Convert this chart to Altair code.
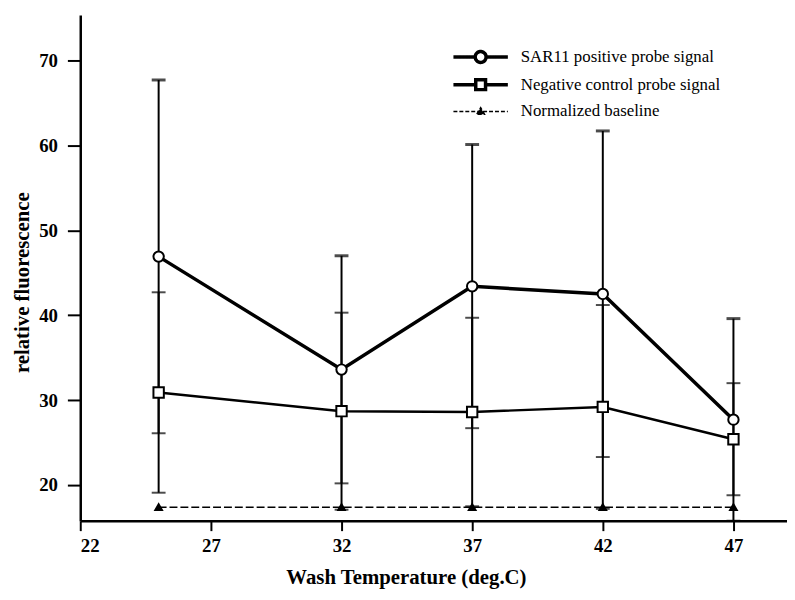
import altair as alt
import pandas as pd

# ---- data ----
temps = [25, 32, 37, 42, 47]
sar11 = [46.9, 33.6, 43.4, 42.5, 27.7]
sar11_err = [20.8, 13.4, 16.7, 19.2, 11.9]
neg = [30.9, 28.7, 28.6, 29.2, 25.4]
neg_err = [11.8, 11.6, 11.1, 12.0, 6.6]
baseline = [17.4, 17.4, 17.4, 17.4, 17.4]

series_names = ["SAR11 positive probe signal", "Negative control probe signal", "Normalized baseline"]
x_ticks = [22, 27, 32, 37, 42, 47]
y_ticks = [20, 30, 40, 50, 60, 70]

FONT = "Liberation Serif"

rows = []
for i, t in enumerate(temps):
    rows.append({"series": series_names[0], "temp": t, "val": sar11[i],
                 "lo": sar11[i] - sar11_err[i], "hi": sar11[i] + sar11_err[i]})
    rows.append({"series": series_names[1], "temp": t, "val": neg[i],
                 "lo": neg[i] - neg_err[i], "hi": neg[i] + neg_err[i]})
    rows.append({"series": series_names[2], "temp": t, "val": baseline[i],
                 "lo": baseline[i], "hi": baseline[i]})
df = pd.DataFrame(rows)
df_err = df[df.series != series_names[2]]
df_sar = df[df.series == series_names[0]]
df_neg = df[df.series == series_names[1]]
df_base = df[df.series == series_names[2]]

xs = alt.Scale(domain=[22, 49.05], nice=False, zero=False)
ys = alt.Scale(domain=[15.8, 75.36], nice=False, zero=False)

X = alt.X("temp:Q", scale=xs, axis=alt.Axis(
    values=x_ticks, title="Wash Temperature (deg.C)", grid=False,
    titleX=329, titleY=57, titleBaseline="middle", titleAnchor="start", titleAlign="center"))
Y = alt.Y("val:Q", scale=ys, axis=alt.Axis(
    values=y_ticks, title="relative fluorescence", grid=False,
    titleX=-58, titleY=270, titleBaseline="middle", titleAlign="center", titleAnchor="start"))

err_rules = alt.Chart(df_err).mark_rule(color="black", strokeWidth=2).encode(
    x=alt.X("temp:Q", scale=xs), y=alt.Y("lo:Q", scale=ys), y2="hi:Q")

caps_hi_sar = alt.Chart(df_sar).mark_tick(color="black", orient="horizontal", size=14, thickness=3).encode(
    x=alt.X("temp:Q", scale=xs), y=alt.Y("hi:Q", scale=ys))
caps_lo_sar = alt.Chart(df_sar).mark_tick(color="black", orient="horizontal", size=14, thickness=2).encode(
    x=alt.X("temp:Q", scale=xs), y=alt.Y("lo:Q", scale=ys))
caps_neg = alt.Chart(df_neg).transform_fold(["lo", "hi"], as_=["k", "v"]).mark_tick(
    color="black", orient="horizontal", size=14, thickness=2).encode(
    x=alt.X("temp:Q", scale=xs), y=alt.Y("v:Q", scale=ys))

line_sar = alt.Chart(df_sar).mark_line(color="black", strokeWidth=3.5).encode(x=X, y=Y)
line_neg = alt.Chart(df_neg).mark_line(color="black", strokeWidth=2.5).encode(
    x=alt.X("temp:Q", scale=xs), y=alt.Y("val:Q", scale=ys))
line_base = alt.Chart(df_base).mark_line(color="black", strokeWidth=1.5, strokeDash=[8, 3]).encode(
    x=alt.X("temp:Q", scale=xs), y=alt.Y("val:Q", scale=ys))

pts_sar = alt.Chart(df_sar).mark_point(shape="circle", size=110, fill="white", stroke="black",
                                       strokeWidth=2, filled=True, opacity=1).encode(
    x=alt.X("temp:Q", scale=xs), y=alt.Y("val:Q", scale=ys))
pts_neg = alt.Chart(df_neg).mark_point(shape="square", size=110, fill="white", stroke="black",
                                       strokeWidth=2, filled=True, opacity=1).encode(
    x=alt.X("temp:Q", scale=xs), y=alt.Y("val:Q", scale=ys))
pts_base = alt.Chart(df_base).mark_point(shape="triangle-up", size=45, fill="black", stroke="black",
                                         filled=True, opacity=1).encode(
    x=alt.X("temp:Q", scale=xs), y=alt.Y("val:Q", scale=ys))

# invisible layer that only supplies the legend (symbol paths span [-2, 2] units)
p_circle = "M-2,0H-0.4M0.4,0H2M-0.4,0A0.4,0.4,0,1,1,0.4,0A0.4,0.4,0,1,1,-0.4,0Z"
p_square = "M-2,0H-0.36M0.36,0H2M-0.36,-0.36H0.36V0.36H-0.36Z"
p_tri = "M-2,0H2M-0.28,0.2L0,-0.28L0.28,0.2Z"
legend_df = df[df.temp == temps[0]]
leg = alt.Legend(title=None, orient="none", legendX=389, legendY=27, labelFont=FONT,
                 labelFontSize=17, labelColor="black", symbolSize=756, symbolOpacity=1,
                 symbolStrokeColor="black", labelOffset=25, rowPadding=0, labelLimit=400)
legend_layer = alt.Chart(legend_df).mark_point(opacity=0).encode(
    x=alt.X("temp:Q", scale=xs), y=alt.Y("val:Q", scale=ys),
    shape=alt.Shape("series:N", scale=alt.Scale(domain=series_names, range=[p_circle, p_square, p_tri]), legend=leg),
    fill=alt.Fill("series:N", scale=alt.Scale(domain=series_names, range=["white", "white", "black"]), legend=leg),
    stroke=alt.Stroke("series:N", scale=alt.Scale(domain=series_names, range=["black", "black", "black"]), legend=leg),
    strokeWidth=alt.StrokeWidth("series:N", scale=alt.Scale(type="ordinal", domain=series_names, range=[3.5, 3.5, 1.5]), legend=leg),
    strokeDash=alt.StrokeDash("series:N", scale=alt.Scale(domain=series_names, range=[[1, 0], [1, 0], [4, 2]]), legend=leg),
)

chart = alt.layer(
    line_base, err_rules, caps_hi_sar, caps_lo_sar, caps_neg, line_neg, line_sar,
    pts_base, pts_neg, pts_sar, legend_layer
).properties(
    width=714, height=511,
    autosize=alt.AutoSizeParams(type="none"),
    padding={"left": 73, "top": 4, "right": 0, "bottom": 69},
).configure_view(stroke=None).configure_axis(
    domainColor="black", domainWidth=2.5, tickColor="black", tickWidth=2,
    labelFont=FONT, labelFontSize=19, labelFontWeight="bold", labelColor="black",
    titleFont=FONT, titleFontSize=21, titleFontWeight="bold", titleColor="black",
).configure_axisX(tickSize=10, labelPadding=6).configure_axisY(tickSize=13, labelPadding=10)

chart.save("out.html", embed_options={"renderer": "svg", "actions": False})
